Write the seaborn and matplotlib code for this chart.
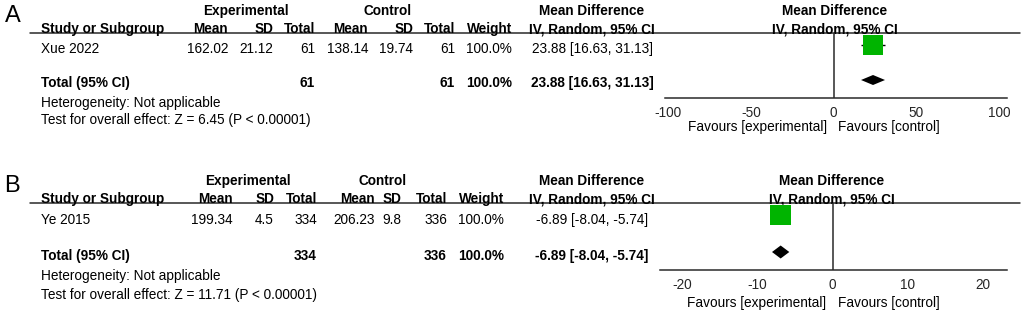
import numpy as np
import matplotlib.pyplot as plt
import seaborn as sns

sns.set_style('white')
plt.rcParams['font.family'] = ['Liberation Sans', 'DejaVu Sans']

# ---- panel A data
study_a = ['Xue 2022']
exp_mean_a = [162.02]
exp_sd_a = [21.12]
exp_n_a = [61]
ctl_mean_a = [138.14]
ctl_sd_a = [19.74]
ctl_n_a = [61]
weight_a = [100.0]
md_a = [23.88]
lo_a = [16.63]
hi_a = [31.13]
tot_a = {'n_exp': 61, 'n_ctl': 61, 'md': 23.88, 'lo': 16.63, 'hi': 31.13, 'z': '6.45'}
ticks_a = [-100, -50, 0, 50, 100]

# ---- panel B data
study_b = ['Ye 2015']
exp_mean_b = [199.34]
exp_sd_b = [4.5]
exp_n_b = [334]
ctl_mean_b = [206.23]
ctl_sd_b = [9.8]
ctl_n_b = [336]
weight_b = [100.0]
md_b = [-6.89]
lo_b = [-8.04]
hi_b = [-5.74]
tot_b = {'n_exp': 334, 'n_ctl': 336, 'md': -6.89, 'lo': -8.04, 'hi': -5.74, 'z': '11.71'}
ticks_b = [-20, -10, 0, 10, 20]

W, H = 1024, 312
FS = 9.8
GREEN = '#00b400'
LINE = '#2a2a2a'

fig = plt.figure(figsize=(W / 100, H / 100), dpi=100)
bg = fig.add_axes([0, 0, 1, 1])
bg.set_xlim(0, W)
bg.set_ylim(H, 0)
bg.axis('off')


def txt(x, y, s, ha='left', bold=False, size=FS):
    bg.text(x, y, s, ha=ha, va='center', fontsize=size,
            fontweight='bold' if bold else 'normal', color='black')


def panel(letter, lay, study, em, es, en, cm, cs, cn, wt, md, lo, hi, tot, ticks):
    txt(lay['letter'][0], lay['letter'][1], letter, ha='center', size=17)
    cols = lay['cols']
    # header row 1
    txt(lay['exp_c'], lay['h1'], 'Experimental', ha='center', bold=True)
    txt(lay['ctl_c'], lay['h1'], 'Control', ha='center', bold=True)
    txt(lay['md_c'], lay['h1'], 'Mean Difference', ha='center', bold=True)
    txt(lay['zero_px'], lay['h1'], 'Mean Difference', ha='center', bold=True)
    # header row 2
    txt(41, lay['h2'], 'Study or Subgroup', bold=True)
    for c, h in zip(cols, ['Mean', 'SD', 'Total', 'Mean', 'SD', 'Total', 'Weight']):
        txt(c, lay['h2'], h, ha='right', bold=True)
    txt(lay['md_c'], lay['h2'], 'IV, Random, 95% CI', ha='center', bold=True)
    txt(lay['zero_px'], lay['h2'], 'IV, Random, 95% CI', ha='center', bold=True)
    bg.plot([30, 1020], [lay['ul'], lay['ul']], color=LINE, lw=1.1)

    # study rows
    for i, name in enumerate(study):
        y = lay['rows'][i]
        txt(41, y, name)
        vals = [f'{em[i]:g}', f'{es[i]:g}', f'{en[i]}', f'{cm[i]:g}', f'{cs[i]:g}',
                f'{cn[i]}', f'{wt[i]:.1f}%']
        for c, v in zip(cols, vals):
            txt(c, y, v, ha='right')
        txt(lay['md_c'], y, f'{md[i]:.2f} [{lo[i]:.2f}, {hi[i]:.2f}]', ha='center')

    # total row
    y = lay['rows'][-1]
    txt(41, y, 'Total (95% CI)', bold=True)
    txt(cols[2], y, f"{tot['n_exp']}", ha='right', bold=True)
    txt(cols[5], y, f"{tot['n_ctl']}", ha='right', bold=True)
    txt(cols[6], y, '100.0%', ha='right', bold=True)
    txt(lay['md_c'], y, f"{tot['md']:.2f} [{tot['lo']:.2f}, {tot['hi']:.2f}]",
        ha='center', bold=True)
    txt(41, lay['het'], 'Heterogeneity: Not applicable')
    txt(41, lay['test'], f"Test for overall effect: Z = {tot['z']} (P < 0.00001)")

    # forest axes, mapped to pixel layout
    x0, x1 = lay['ax_x']
    t0, t1 = lay['tick_px']
    scale = (t1 - t0) / (ticks[-1] - ticks[0])
    zero = t0 - ticks[0] * scale
    ax = fig.add_axes([x0 / W, 1 - lay['axis_y'] / H, (x1 - x0) / W,
                       (lay['axis_y'] - lay['ul']) / H])
    ax.set_xlim((x0 - zero) / scale, (x1 - zero) / scale)
    mark_rows = lay['marks']
    step = mark_rows[1] - mark_rows[0]
    ax.set_ylim(1 + (lay['axis_y'] - mark_rows[1]) / step,
                -(mark_rows[0] - lay['ul']) / step)
    rows = np.arange(len(study))
    ax.hlines(rows, lo, hi, color='black', lw=1, zorder=2)
    sns.scatterplot(x=md, y=rows, marker='s', s=lay['sq'] ** 2, color=GREEN,
                    edgecolor='none', linewidth=0, ax=ax, zorder=3, legend=False)
    ty = len(study)
    hh = lay['dh'] / step
    ax.fill([tot['lo'], tot['md'], tot['hi'], tot['md']],
            [ty, ty - hh, ty, ty + hh], color='black', lw=0, zorder=3)
    ax.axvline(0, color=LINE, lw=1.1, zorder=1)
    for s in ['top', 'left', 'right']:
        ax.spines[s].set_visible(False)
    ax.spines['bottom'].set_color(LINE)
    ax.spines['bottom'].set_linewidth(1.1)
    ax.set_facecolor('none')
    ax.set_yticks([])
    ax.set_xticks(ticks)
    ax.set_xticklabels([f'{t}' for t in ticks], fontsize=FS)
    ax.tick_params(axis='x', direction='inout', length=6, width=1.1, color=LINE, pad=3)
    ax.set_xlabel('')
    ax.set_ylabel('')
    zpx = zero
    txt(zpx - 6, lay['fav'], 'Favours [experimental]', ha='right')
    txt(zpx + 5, lay['fav'], 'Favours [control]', ha='left')


lay_a = dict(letter=(13, 16), h1=11, h2=29, ul=33, rows=[49, 83], marks=[44.5, 80],
             het=103, test=120, axis_y=98, fav=127,
             cols=[228, 273, 315, 368, 413, 455, 512],
             exp_c=246, ctl_c=388, md_c=592, zero_px=835,
             ax_x=(665, 1007), tick_px=(668, 999), sq=14.4, dh=5)
lay_b = dict(letter=(12, 186), h1=181, h2=199, ul=203, rows=[220, 256], marks=[215, 252],
             het=276, test=295, axis_y=270, fav=303,
             cols=[233, 274, 317, 375, 401, 447, 504],
             exp_c=248, ctl_c=383, md_c=592, zero_px=832,
             ax_x=(660, 1007), tick_px=(682, 983), sq=14.8, dh=6.5)

panel('A', lay_a, study_a, exp_mean_a, exp_sd_a, exp_n_a, ctl_mean_a, ctl_sd_a,
      ctl_n_a, weight_a, md_a, lo_a, hi_a, tot_a, ticks_a)
panel('B', lay_b, study_b, exp_mean_b, exp_sd_b, exp_n_b, ctl_mean_b, ctl_sd_b,
      ctl_n_b, weight_b, md_b, lo_b, hi_b, tot_b, ticks_b)

fig.savefig('out.png', dpi=100)
